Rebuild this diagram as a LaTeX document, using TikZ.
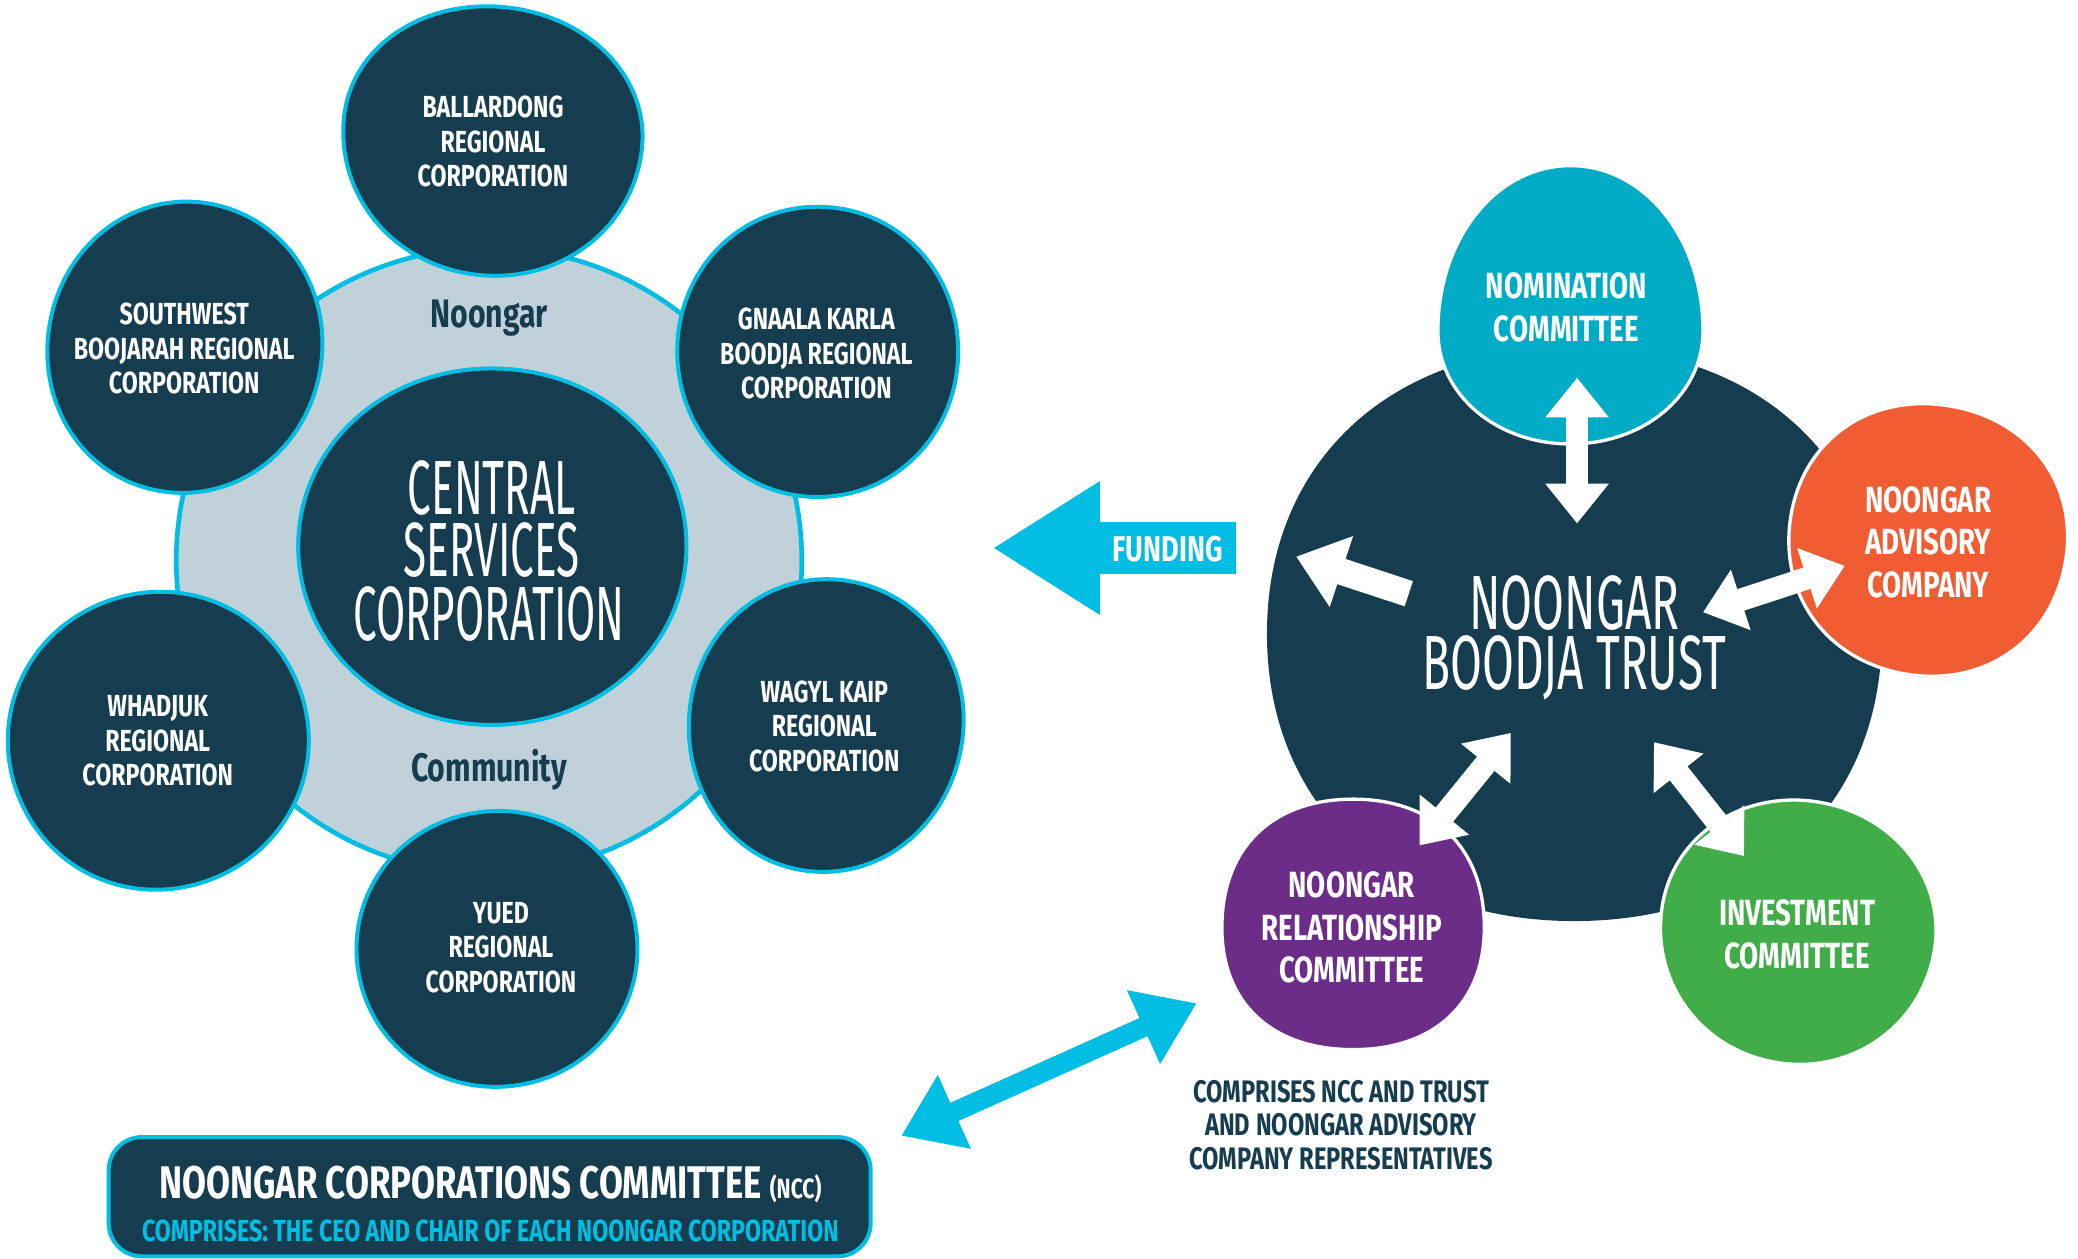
\documentclass[tikz,border=0pt]{standalone}
\usepackage{fontspec}
\usetikzlibrary{arrows.meta}
\newfontfamily\cond{Fira Sans}[FakeStretch=0.76]
\newfontfamily\hand{Fira Sans}[FakeStretch=0.55]
\newfontfamily\handb{Fira Sans}[FakeStretch=0.6]
\definecolor{navy}{RGB}{22,61,79}
\definecolor{cyanc}{RGB}{0,190,227}
\definecolor{lightc}{RGB}{192,209,218}
\definecolor{tealc}{RGB}{0,171,198}
\definecolor{orangec}{RGB}{240,93,51}
\definecolor{purplec}{RGB}{107,45,135}
\definecolor{greenc}{RGB}{65,173,73}
% #1 style, #2 cx, #3 cy, #4 right, #5 bottom, #6 left, #7 top, #8 kappa, #9 rotation
\newcommand\egg[9]{%
  \begin{scope}[shift={(#2,#3)},rotate=#9]
  \path[#1] (#4,0) .. controls (#4,{#8*#5}) and ({#8*#4},#5) .. (0,#5)
    .. controls ({-#8*#6},#5) and (-#6,{#8*#5}) .. (-#6,0)
    .. controls (-#6,{-#8*#7}) and ({-#8*#6},-#7) .. (0,-#7)
    .. controls ({#8*#4},-#7) and (#4,{-#8*#7}) .. cycle;
  \end{scope}}
\tikzset{
  lblob/.style={fill=navy,draw=cyanc,line width=3pt},
  rblob/.style={draw=white,line width=2.5pt},
  btext/.style={text=white,font=\cond\bfseries\fontsize{23}{26}\selectfont,align=center,inner sep=0pt},
  ctext/.style={text=white,font=\cond\bfseries\fontsize{27.5}{32}\selectfont,align=center,inner sep=0pt},
  bigtext/.style={text=white,font=\hand\fontsize{58}{60}\selectfont,inner sep=0pt,anchor=base,text height=40pt,text depth=0pt},
  trusttext/.style={text=white,font=\handb\fontsize{58}{60}\selectfont,inner sep=0pt,anchor=base,text height=40pt,text depth=0pt},
  labtext/.style={text=navy,font=\cond\bfseries\fontsize{30}{34}\selectfont,inner sep=0pt},
  warrow/.style={white,line width=17pt,{Triangle[width=46pt,length=30pt]}-{Triangle[width=46pt,length=30pt]}},
}
\begin{document}
\begin{tikzpicture}[x=1pt,y=-1pt]
\useasboundingbox (0,0) rectangle (1568,950);
% ---------- left group ----------
\draw[fill=lightc,draw=cyanc,line width=3.5pt] (369,423) circle[radius=236];
\egg{lblob}{371}{412}{147}{135}{146}{134}{0.56}{0}
\node[bigtext] (csc1) at (371,388) {CENTRAL};
\node[bigtext] (csc2) at (371,435) {SERVICES};
\node[bigtext] (csc3) at (369,483) {CORPORATION};
\node[labtext] (noongar) at (369,240) {Noongar};
\node[labtext] (community) at (369,581) {Community};

\egg{lblob}{372}{100}{113}{108}{113}{95}{0.56}{-6}
\node[btext] (ballardong) at (372,107) {BALLARDONG\\REGIONAL\\CORPORATION};
\egg{lblob}{617}{265}{106}{110}{106}{109}{0.56}{0}
\node[btext] (gnaala) at (616,267) {GNAALA KARLA\\BOODJA REGIONAL\\CORPORATION};
\egg{lblob}{623}{545}{104}{113}{103}{108}{0.56}{-8}
\node[btext] (wagyl) at (622,548) {WAGYL KAIP\\REGIONAL\\CORPORATION};
\egg{lblob}{375}{716}{106}{104}{106}{104}{0.56}{8}
\node[btext] (yued) at (378,715) {YUED\\REGIONAL\\CORPORATION};
\egg{lblob}{119}{559}{114}{112}{113}{112}{0.56}{20}
\node[btext] (whadjuk) at (119,559) {WHADJUK\\REGIONAL\\CORPORATION};
\egg{lblob}{139}{262}{104}{110}{103}{110}{0.56}{-10}
\node[btext] (southwest) at (139,263) {SOUTHWEST\\BOOJARAH REGIONAL\\CORPORATION};

% ---------- right group ----------
\egg{fill=navy}{1188}{478}{232}{217}{232}{216}{0.6}{0}
\node[trusttext] (trust1) at (1188,475) {NOONGAR};
\node[trusttext] (trust2) at (1188,520) {BOODJA TRUST};
\egg{rblob,fill=tealc}{1185}{250}{100}{85}{100}{125}{0.56}{0}
\node[ctext] (nomination) at (1182,232) {NOMINATION\\COMMITTEE};
\egg{rblob,fill=orangec}{1455}{406}{105}{104}{105}{101}{0.58}{-10}
\node[ctext] (advisory) at (1455,409) {NOONGAR\\ADVISORY\\COMPANY};
\egg{rblob,fill=greenc}{1357}{700}{104}{103}{104}{96}{0.56}{-10}
\node[ctext] (investment) at (1356,705) {INVESTMENT\\COMMITTEE};
\egg{rblob,fill=purplec}{1021}{700}{99}{92}{99}{97}{0.62}{0}
\node[ctext] (relationship) at (1020,700) {NOONGAR\\RELATIONSHIP\\COMMITTEE};

% white arrows
\coordinate (nA) at (1190,285); \coordinate (nB) at (1190,395);
\coordinate (aA) at (1392,427); \coordinate (aB) at (1285,462);
\coordinate (fA) at (1063,448); \coordinate (fB) at (978,420);
\coordinate (rA) at (1140,553); \coordinate (rB) at (1071,638);
\coordinate (iA) at (1248,560); \coordinate (iB) at (1316,646);
\draw[warrow] (nA) -- (nB);
\draw[warrow] (aA) -- (aB);
\draw[warrow] (rA) -- (rB);
\draw[warrow] (iA) -- (iB);
\draw[white,line width=20pt,-{Triangle[width=54pt,length=36pt]}] (fA) -- (fB);

% funding arrow
\coordinate (fundtail) at (933,413.5); \coordinate (fundtip) at (749,413.5);
\draw[cyanc,line width=39pt,-{Triangle[width=95pt,length=81pt]}] (fundtail) -- (fundtip);
\node[text=white,font=\cond\bfseries\fontsize{27}{30}\selectfont,inner sep=0pt] (funding) at (881,414) {FUNDING};

% lower cyan arrow
\coordinate (cA) at (903,757); \coordinate (cB) at (680,857);
\draw[cyanc,line width=15pt,{Triangle[width=58pt,length=44pt]}-{Triangle[width=58pt,length=44pt]}] (cA) -- (cB);

% comprises text
\node[text=navy,font=\cond\bfseries\fontsize{23.5}{25.5}\selectfont,align=center,inner sep=0pt] (comprises) at (1012,849) {COMPRISES NCC AND TRUST\\AND NOONGAR ADVISORY\\COMPANY REPRESENTATIVES};

% NCC box
\node[draw=cyanc,fill=navy,line width=3pt,rounded corners=25pt,minimum width=575pt,minimum height=90pt,inner sep=0pt] (nccbox) at (369.5,903) {};
\node[text=white,font=\cond\bfseries\fontsize{34.5}{40}\selectfont,inner sep=0pt,anchor=base] (ncc1) at (370,904) {NOONGAR CORPORATIONS COMMITTEE {\fontsize{21}{24}\selectfont(NCC)}};
\node[text=cyanc,font=\cond\bfseries\fontsize{23}{26}\selectfont,inner sep=0pt,anchor=base] (ncc2) at (370,937) {COMPRISES: THE CEO AND CHAIR OF EACH NOONGAR CORPORATION};
\end{tikzpicture}
\end{document}
